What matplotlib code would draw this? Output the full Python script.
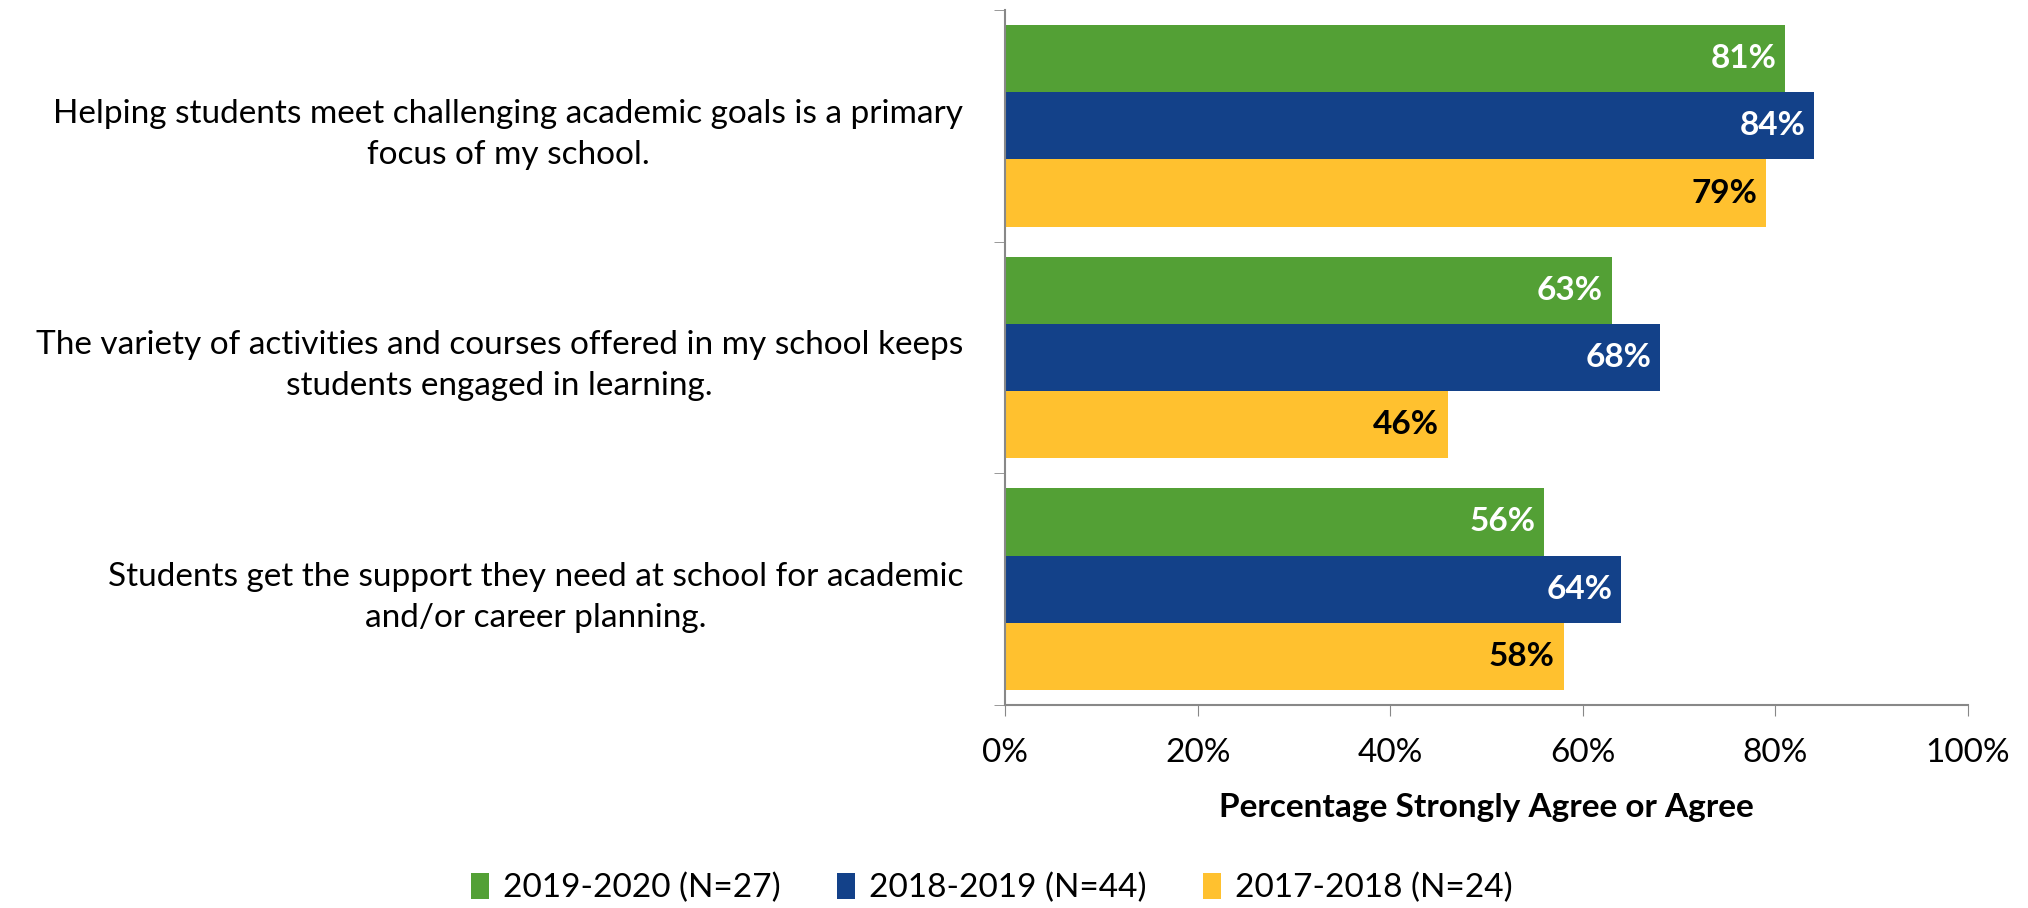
import matplotlib.pyplot as plt
import numpy as np

plt.rcParams['font.family'] = ['Lato', 'DejaVu Sans']

statements = [
    "Helping students meet challenging academic goals is a primary\nfocus of my school.",
    "The variety of activities and courses offered in my school keeps\nstudents engaged in learning.",
    "Students get the support they need at school for academic\nand/or career planning.",
]
years = ["2019-2020 (N=27)", "2018-2019 (N=44)", "2017-2018 (N=24)"]
vals_2019_2020 = [81, 63, 56]
vals_2018_2019 = [84, 68, 64]
vals_2017_2018 = [79, 46, 58]
colors = ["#53A035", "#134189", "#FFC12F"]
label_colors = ["white", "white", "black"]

fig = plt.figure(figsize=(20.28, 9.08), dpi=100)
ax = fig.add_axes([0.4956, 0.2236, 0.4748, 0.7654])

series = [vals_2019_2020, vals_2018_2019, vals_2017_2018]
y = np.arange(len(statements))
h = 0.29
for i, (vals, col, lc, name) in enumerate(zip(series, colors, label_colors, years)):
    pos = y + (i - 1) * h
    bars = ax.barh(pos, vals, height=h, color=col, label=name)
    for b, v in zip(bars, vals):
        ax.text(v - 0.9, b.get_y() + h / 2, f"{v}%", ha='right', va='center',
                color=lc, fontsize=24, fontweight='bold')

ax.set_xlim(0, 100)
ax.set_ylim(len(statements) - 0.5, -0.5)
ax.set_xticks(np.arange(0, 101, 20))
ax.set_xticklabels([f"{t}%" for t in range(0, 101, 20)], fontsize=24)
ax.tick_params(axis='x', direction='out', length=8, color='#888888', pad=16)

ax.set_yticks(y)
ax.set_yticklabels(statements, fontsize=24, multialignment='center', linespacing=1.45)
ax.tick_params(axis='y', length=0, pad=30)
ax.set_yticks(np.arange(-0.5, len(statements), 1), minor=True)
ax.tick_params(axis='y', which='minor', length=8, color='#888888')

for s in ['top', 'right']:
    ax.spines[s].set_visible(False)
for s in ['left', 'bottom']:
    ax.spines[s].set_color('#888888')
    ax.spines[s].set_linewidth(1.5)

ax.set_xlabel("Percentage Strongly Agree or Agree", fontsize=24, fontweight='bold', labelpad=18)

fig.legend(loc='lower center', bbox_to_anchor=(0.489, 0.005), ncol=3, frameon=False,
           fontsize=24, handlelength=0.55, handleheight=0.8, columnspacing=1.7,
           handletextpad=0.4, borderaxespad=0, borderpad=0)

fig.savefig("out.png", dpi=100)
